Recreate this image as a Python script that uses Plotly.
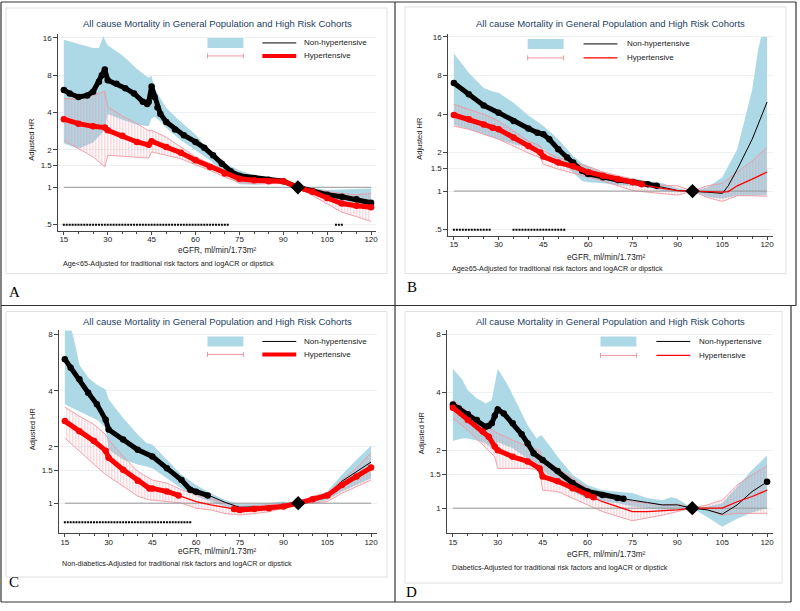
import math
import plotly.graph_objects as go

# ---------------- data (HR on log scale) ----------------
# Panel A: Age<65
A_nh_x = [15, 17, 20, 23, 25, 27, 28, 29, 30, 33, 36, 39, 42, 43.5, 44, 45, 46, 47, 48, 50, 53, 56, 60, 63, 66,
          69, 72, 75, 80, 85, 90, 95, 100, 105, 110, 115, 120]
A_nh_hr = [6.1, 5.7, 5.35, 5.5, 5.9, 7.1, 8.0, 8.9, 7.3, 6.85, 6.3, 5.7, 4.9, 4.7, 4.9, 6.5, 5.35, 4.4, 3.9, 3.36,
           2.93, 2.63, 2.32, 2.08, 1.81, 1.55, 1.35, 1.24, 1.19, 1.15, 1.12, 1.0, 0.93, 0.87, 0.84, 0.80, 0.75]
A_nh_ci_x = [15, 20, 25, 27, 28.5, 29, 30, 35, 40, 44, 45, 46, 48, 50, 55, 60, 65, 70, 75, 80, 85, 90, 95, 100,
             105, 110, 115, 120]
A_nh_lo = [2.25, 2.05, 2.3, 2.6, 2.8, 2.9, 3.9, 3.5, 3.2, 3.1, 3.6, 3.7, 3.4, 3.0, 2.4, 2.0, 1.65, 1.28, 1.06,
           1.05, 1.07, 1.08, 1.0, 0.88, 0.8, 0.75, 0.72, 0.68]
A_nh_hi = [15.5, 14.4, 13.3, 13.3, 16.6, 15.5, 14.0, 11.6, 9.0, 7.6, 7.9, 6.25, 5.2, 4.36, 3.36, 2.66, 1.93, 1.55,
           1.37, 1.25, 1.19, 1.16, 1.0, 0.99, 0.95, 0.96, 0.97, 0.98]
A_h_x = [15, 20, 25, 29, 30, 35, 40, 44, 45, 50, 55, 60, 65, 70, 75, 80, 85, 90, 95, 100, 105, 110, 115, 120]
A_h_hr = [3.54, 3.26, 3.1, 3.03, 2.88, 2.6, 2.32, 2.2, 2.35, 2.11, 1.9, 1.65, 1.46, 1.29, 1.17, 1.14, 1.12, 1.12,
          1.0, 0.92, 0.82, 0.74, 0.71, 0.69]
A_h_lo = [2.39, 2.05, 1.76, 1.46, 1.81, 1.78, 1.76, 1.72, 1.93, 1.81, 1.70, 1.52, 1.37, 1.21, 1.09, 1.07, 1.07,
          1.07, 1.0, 0.86, 0.74, 0.63, 0.58, 0.53]
A_h_hi = [5.2, 5.1, 5.5, 5.95, 4.44, 3.76, 3.26, 2.85, 2.88, 2.54, 2.11, 1.76, 1.55, 1.37, 1.25, 1.19, 1.16, 1.16,
          1.0, 0.96, 0.92, 0.89, 0.87, 0.89]

# Panel B: Age>=65
B_nh_x = [15, 20, 25, 30, 35, 40, 43, 45, 47, 50, 53, 55, 58, 60, 65, 70, 75, 80, 83, 85, 90, 95, 100, 105, 107,
          110, 115, 120]
B_nh_hr = [7.0, 5.7, 4.67, 4.1, 3.53, 3.08, 2.86, 2.78, 2.54, 2.12, 1.83, 1.67, 1.44, 1.36, 1.28, 1.22, 1.18,
           1.13, 1.10, 1.07, 1.01, 1.0, 0.98, 0.96, 1.1, 1.48, 2.54, 4.96]
B_nh_ci_x = [15, 20, 25, 28, 30, 35, 40, 45, 48, 50, 55, 58, 60, 65, 70, 75, 80, 85, 90, 95, 100, 105, 110, 115,
             117, 118, 120]
B_nh_lo = [3.3, 3.04, 2.78, 2.62, 2.54, 2.32, 2.19, 2.12, 1.8, 1.72, 1.40, 1.2, 1.17, 1.15, 1.11, 1.10, 1.07,
           1.0, 0.98, 1.0, 0.90, 0.87, 0.92, 0.93, 0.93, 0.93, 0.93]
B_nh_hi = [11.9, 8.4, 6.4, 6.0, 5.86, 4.9, 3.9, 3.22, 2.8, 2.54, 1.88, 1.65, 1.57, 1.40, 1.30, 1.25, 1.20, 1.15,
           1.05, 1.0, 1.07, 1.28, 2.12, 6.2, 12.7, 16, 16]
B_h_x = [15, 20, 25, 28, 30, 35, 40, 44, 45, 50, 55, 60, 65, 70, 75, 78, 80, 85, 90, 95, 100, 105, 107, 110, 115,
         120]
B_h_hr = [3.93, 3.64, 3.32, 3.13, 3.04, 2.62, 2.25, 2.0, 1.86, 1.67, 1.56, 1.41, 1.32, 1.24, 1.17, 1.13, 1.10,
          1.05, 1.01, 1.0, 0.99, 0.98, 0.99, 1.10, 1.24, 1.41]
B_h_ci_x = [15, 20, 25, 30, 35, 40, 44, 45, 50, 55, 60, 65, 70, 75, 80, 85, 90, 95, 100, 105, 110, 115, 120]
B_h_lo = [3.22, 3.04, 2.78, 2.54, 2.25, 1.98, 1.82, 1.62, 1.48, 1.38, 1.28, 1.20, 1.10, 1.01, 0.98, 0.96, 0.93,
          1.0, 0.89, 0.83, 0.92, 0.92, 0.91]
B_h_hi = [4.76, 4.35, 3.98, 3.53, 2.95, 2.46, 2.25, 2.06, 1.83, 1.67, 1.56, 1.41, 1.32, 1.24, 1.17, 1.11, 1.10,
          1.0, 1.10, 1.15, 1.40, 1.72, 2.19]

# Panel C: Non-diabetics
C_nh_x = [15, 17, 20, 23, 26, 29, 30, 35, 40, 45, 50, 55, 58, 60, 64, 65, 70, 74, 75, 80, 85, 90, 95, 100, 105,
          110, 115, 120]
C_nh_hr = [5.9, 5.3, 4.6, 3.9, 3.38, 2.8, 2.48, 2.19, 1.93, 1.78, 1.54, 1.33, 1.18, 1.15, 1.10, 1.09, 1.01, 0.96,
           0.95, 0.955, 0.96, 0.98, 1.0, 1.04, 1.11, 1.31, 1.48, 1.66]
C_nh_ci_x = [15, 17, 18, 20, 23, 26, 29, 30, 35, 40, 43, 45, 50, 55, 60, 65, 70, 75, 80, 85, 90, 95, 100, 105,
             110, 115, 120]
C_nh_lo = [3.38, 3.25, 3.2, 3.1, 2.95, 2.8, 2.53, 1.93, 1.71, 1.61, 1.57, 1.54, 1.36, 1.2, 1.09, 1.02, 0.96, 0.92,
           0.93, 0.94, 0.96, 1.0, 1.0, 1.04, 1.155, 1.25, 1.36]
C_nh_hi = [8.8, 8.8, 7.7, 5.5, 4.7, 4.3, 4.06, 3.6, 2.86, 2.33, 2.1, 2.06, 1.71, 1.42, 1.25, 1.13, 1.04, 0.99,
           0.99, 1.0, 1.02, 1.0, 1.09, 1.155, 1.42, 1.71, 2.03]
C_h_x = [15, 20, 25, 29, 30, 35, 40, 44, 45, 50, 54, 55, 60, 65, 70, 73, 75, 80, 85, 90, 95, 100, 105, 110, 115,
         120]
C_h_hr = [2.75, 2.43, 2.15, 1.91, 1.75, 1.51, 1.32, 1.2, 1.2, 1.155, 1.10, 1.09, 1.02, 0.98, 0.95, 0.93, 0.92,
          0.93, 0.94, 0.96, 1.0, 1.05, 1.1, 1.25, 1.39, 1.55]
C_h_ci_x = [15, 20, 25, 29, 30, 35, 40, 44, 45, 50, 55, 60, 65, 70, 75, 80, 85, 90, 95, 100, 105, 110, 115, 120]
C_h_lo = [2.23, 1.9, 1.61, 1.42, 1.39, 1.23, 1.09, 1.04, 1.04, 1.02, 1.0, 0.94, 0.92, 0.88, 0.865, 0.88, 0.90,
          0.94, 1.0, 1.0, 1.02, 1.13, 1.23, 1.33]
C_h_hi = [3.27, 2.92, 2.64, 2.33, 2.19, 1.78, 1.48, 1.36, 1.33, 1.28, 1.18, 1.11, 1.06, 1.0, 0.96, 0.97, 0.98,
          0.99, 1.0, 1.09, 1.13, 1.33, 1.54, 1.86]

# Panel D: Diabetics
D_nh_x = [15, 17, 20, 23, 26, 27, 28, 29, 30, 32, 35, 38, 40, 42, 45, 50, 55, 60, 65, 70, 72, 75, 80, 85, 90, 95,
          100, 105, 110, 115, 120]
D_nh_hr = [3.46, 3.3, 3.08, 2.87, 2.65, 2.68, 2.76, 3.02, 3.26, 3.11, 2.76, 2.42, 2.17, 1.93, 1.78, 1.56, 1.35,
           1.22, 1.17, 1.13, 1.12, 1.1, 1.07, 1.04, 1.04, 1.0, 0.98, 0.93, 1.04, 1.22, 1.37]
D_nh_ci_x = [15, 18, 20, 23, 26, 28, 30, 33, 35, 40, 43, 44.5, 48, 50, 55, 60, 65, 70, 75, 80, 85, 88, 90, 95,
             100, 105, 110, 115, 120]
D_nh_lo = [2.24, 2.3, 2.3, 2.25, 2.17, 2.05, 2.2, 2.1, 2.05, 1.8, 1.65, 1.6, 1.45, 1.4, 1.22, 1.12, 1.09, 1.06,
           1.02, 1.0, 0.98, 0.98, 0.98, 1.0, 0.9, 0.8, 0.88, 0.95, 1.0]
D_nh_hi = [5.3, 4.7, 4.1, 3.73, 3.5, 3.65, 5.3, 4.46, 3.87, 2.7, 2.3, 2.4, 2.05, 1.85, 1.49, 1.32, 1.24, 1.22,
           1.2, 1.13, 1.10, 1.14, 1.12, 1.0, 1.02, 1.06, 1.3, 1.58, 1.88]
D_h_x = [15, 20, 25, 27, 29, 30, 35, 40, 44, 45, 50, 55, 60, 62, 65, 70, 75, 80, 85, 90, 95, 100, 105, 110, 115,
         120]
D_h_hr = [3.33, 2.87, 2.5, 2.35, 2.09, 2.0, 1.85, 1.75, 1.61, 1.46, 1.38, 1.27, 1.17, 1.14, 1.08, 1.02, 0.96,
          0.96, 0.97, 0.98, 1.0, 1.0, 1.0, 1.08, 1.15, 1.24]
D_h_ci_x = [15, 20, 25, 29, 30, 35, 40, 44, 45, 50, 55, 60, 65, 70, 75, 80, 85, 90, 95, 100, 105, 110, 115, 120]
D_h_lo = [2.93, 2.55, 2.13, 1.85, 1.61, 1.61, 1.61, 1.58, 1.24, 1.22, 1.13, 1.04, 0.96, 0.905, 0.86, 0.89, 0.92,
          0.96, 1.0, 0.98, 0.92, 0.94, 0.94, 0.94]
D_h_hi = [3.65, 3.17, 2.76, 2.5, 2.45, 2.26, 2.09, 2.0, 1.78, 1.61, 1.43, 1.27, 1.17, 1.13, 1.08, 1.06, 1.04,
          1.05, 1.0, 1.04, 1.1, 1.32, 1.49, 1.66]

# eGFR ranges where points are significant (drawn with markers)
A_nh_marked = [(15, 120)]
A_h_marked = [(15, 120)]
B_nh_marked = [(15, 83)]
B_h_marked = [(15, 78)]
C_nh_marked = [(15, 64)]
C_h_marked = [(15, 54), (73, 120)]
D_nh_marked = [(15, 72), (120, 120)]
D_h_marked = [(15, 62)]

# significance dot rows (eGFR ranges, HR where the row is drawn)
A_sig = [(15, 71), (108, 110)]
B_sig = [(15, 27), (35, 52)]
C_sig = [(15, 58)]
D_sig = []
sig_row_hr = {"A": 0.5, "B": 0.5, "C": 0.79, "D": 0.5}

ref_egfr, ref_hr = 95, 1.0

x_ticks = [15, 30, 45, 60, 75, 90, 105, 120]
y_ticks_ab = [0.5, 1, 1.5, 2, 4, 8, 16]
y_text_ab = [".5", "1", "1.5", "2", "4", "8", "16"]
y_ticks_cd = [1, 1.5, 2, 4, 8]
y_text_cd = ["1", "1.5", "2", "4", "8"]

title = "All cause Mortality in General Population and High Risk Cohorts"
notes = {
    "A": "Age<65-Adjusted for traditional risk factors and logACR or dipstick",
    "B": "Age\u226565-Adjusted for traditional risk factors and logACR or dipstick",
    "C": "Non-diabetics-Adjusted for traditional risk factors and logACR or dipstick",
    "D": "Diabetics-Adjusted for traditional risk factors and logACR or dipstick",
}

# ---------------- styling / layout ----------------
W, H = 800, 611
BLUE = "rgb(173,216,230)"
PINK = "rgb(240,150,160)"
RED = "rgb(255,0,0)"
GRID = "rgb(236,240,242)"
FONT = "Liberation Sans, Arial, sans-serif"
TITLE_C = "#24405f"

# pixel geometry of each panel: where eGFR 15/120 land, plot box, two y ticks
panels = [
    dict(k="A", xa="x", ya="y", p15=64, p120=372, left=58.5, right=377, top=33, bottom=230,
         yref=((16, 37), (0.5, 224)), yt=(y_ticks_ab, y_text_ab),
         nh=(A_nh_x, A_nh_hr, A_nh_marked), nhci=(A_nh_ci_x, A_nh_lo, A_nh_hi),
         h=(A_h_x, A_h_hr, A_h_marked), hci=(A_h_x, A_h_lo, A_h_hi), sig=A_sig,
         title=(218, 23), leg=(208, 263, 303, 42, 55), thick_leg=True,
         xt=(218, 250), note=(61, 263), ylab=(32, 138), letter=(7, 291), box=(6, 7, 388, 273)),
    dict(k="B", xa="x2", ya="y2", p15=455, p120=769, left=449.5, right=775, top=33, bottom=235,
         yref=((16, 36), (0.5, 229)), yt=(y_ticks_ab, y_text_ab),
         nh=(B_nh_x, B_nh_hr, B_nh_marked), nhci=(B_nh_ci_x, B_nh_lo, B_nh_hi),
         h=(B_h_x, B_h_hr, B_h_marked), hci=(B_h_ci_x, B_h_lo, B_h_hi), sig=B_sig,
         title=(612, 23), leg=(529, 585, 627, 43, 57), thick_leg=False,
         xt=(608, 257), note=(451, 268), ylab=(421, 137), letter=(406, 286), box=(406, 6, 788, 273)),
    dict(k="C", xa="x3", ya="y3", p15=65, p120=372, left=59.5, right=378, top=330, bottom=533,
         yref=((8, 334), (1, 503)), yt=(y_ticks_cd, y_text_cd),
         nh=(C_nh_x, C_nh_hr, C_nh_marked), nhci=(C_nh_ci_x, C_nh_lo, C_nh_hi),
         h=(C_h_x, C_h_hr, C_h_marked), hci=(C_h_ci_x, C_h_lo, C_h_hi), sig=C_sig,
         title=(218, 321), leg=(208, 263, 303, 341, 354), thick_leg=True,
         xt=(218, 551), note=(60, 563), ylab=(32, 428), letter=(7, 582), box=(6, 311, 388, 577)),
    dict(k="D", xa="x4", ya="y4", p15=454, p120=769, left=448.5, right=775, top=330, bottom=533,
         yref=((8, 334), (1, 508)), yt=(y_ticks_cd, y_text_cd),
         nh=(D_nh_x, D_nh_hr, D_nh_marked), nhci=(D_nh_ci_x, D_nh_lo, D_nh_hi),
         h=(D_h_x, D_h_hr, D_h_marked), hci=(D_h_ci_x, D_h_lo, D_h_hi), sig=D_sig,
         title=(612, 321), leg=(602, 658, 699, 341, 355), thick_leg=False,
         xt=(608, 554), note=(451, 567), ylab=(422, 432), letter=(405, 592), box=(406, 311, 784, 583)),
]


def px(x):
    return x / W


def py(y):
    return 1 - y / H


def pick(xs, ys, lo, hi):
    pts = [(a, b) for a, b in zip(xs, ys) if lo <= a <= hi]
    return [p[0] for p in pts], [p[1] for p in pts]


fig = go.Figure()
shapes = []
annotations = []
layout_axes = {}

for i, p in enumerate(panels):
    xa, ya = p["xa"], p["ya"]
    # axis ranges from pixel geometry
    ppu = (p["p120"] - p["p15"]) / 105.0
    xr = [15 - (p["p15"] - p["left"]) / ppu, 120 + (p["right"] - p["p120"]) / ppu]
    (vh, ph), (vl, pl) = p["yref"]
    ppl = (pl - ph) / (math.log10(vh) - math.log10(vl))
    yr = [math.log10(vl) - (p["bottom"] - pl) / ppl, math.log10(vh) + (ph - p["top"]) / ppl]

    # blue CI band (non-hypertensive)
    cx, clo, chi = p["nhci"]
    fig.add_trace(go.Scatter(x=cx, y=clo, mode="lines", line=dict(width=0, color=BLUE),
                             xaxis=xa, yaxis=ya, showlegend=False, hoverinfo="skip"))
    fig.add_trace(go.Scatter(x=cx, y=chi, mode="lines", line=dict(width=0, color=BLUE), fill="tonexty",
                             fillcolor=BLUE, xaxis=xa, yaxis=ya, showlegend=False, hoverinfo="skip"))
    # pink hatched CI (hypertensive)
    hx, hlo, hhi = p["hci"]
    fig.add_trace(go.Scatter(x=hx, y=hlo, mode="lines", line=dict(width=0.9, color=PINK),
                             xaxis=xa, yaxis=ya, showlegend=False, hoverinfo="skip"))
    fig.add_trace(go.Scatter(x=hx, y=hhi, mode="lines", line=dict(width=0.9, color=PINK), fill="tonexty",
                             fillcolor="rgba(0,0,0,0)",
                             fillpattern=dict(shape="|", fgcolor=PINK, bgcolor="rgba(0,0,0,0)",
                                              size=3, solidity=0.38),
                             xaxis=xa, yaxis=ya, showlegend=False, hoverinfo="skip"))
    # reference line at HR 1
    fig.add_trace(go.Scatter(x=[15, 120], y=[1, 1], mode="lines", line=dict(width=1, color="rgb(150,150,150)"),
                             xaxis=xa, yaxis=ya, showlegend=False, hoverinfo="skip"))
    # significance dot row
    sx = []
    for a, b in p["sig"]:
        sx += list(range(a, b + 1))
    if sx:
        fig.add_trace(go.Scatter(x=sx, y=[sig_row_hr[p["k"]]] * len(sx), mode="markers",
                                 marker=dict(symbol="square", size=2, color="black"),
                                 xaxis=xa, yaxis=ya, showlegend=False, hoverinfo="skip"))
    # estimate lines: black then red
    for (sxs, sys_, marked), col, thin in ((p["nh"], "black", 1.0), (p["h"], RED, 1.3)):
        fig.add_trace(go.Scatter(x=sxs, y=sys_, mode="lines", line=dict(width=thin, color=col),
                                 xaxis=xa, yaxis=ya, showlegend=False, hoverinfo="skip"))
        for a, b in marked:
            mx, my = pick(sxs, sys_, a, b)
            fig.add_trace(go.Scatter(x=mx, y=my, mode="lines+markers", line=dict(width=5, color=col),
                                     marker=dict(size=6.5, color=col),
                                     xaxis=xa, yaxis=ya, showlegend=False, hoverinfo="skip"))
    fig.add_trace(go.Scatter(x=[ref_egfr], y=[ref_hr], mode="markers",
                             marker=dict(symbol="diamond", size=11, color="black"),
                             xaxis=xa, yaxis=ya, showlegend=False, hoverinfo="skip"))

    sfx = "" if i == 0 else str(i + 1)
    layout_axes["xaxis" + sfx] = dict(
        domain=[px(p["left"]), px(p["right"])], range=xr, anchor=ya,
        tickmode="array", tickvals=x_ticks, ticks="outside", ticklen=3, tickwidth=1,
        tickcolor="#444", showline=True, linecolor="#444", linewidth=1, showgrid=False, zeroline=False,
        ticklabelstandoff=-2,
        tickfont=dict(family=FONT, size=8, color="#222"),
        minor=dict(tickmode="linear", tick0=15, dtick=5, ticks="outside", ticklen=2, tickcolor="#444",
                   showgrid=False))
    tv, tt = p["yt"]
    layout_axes["yaxis" + sfx] = dict(
        domain=[py(p["bottom"]), py(p["top"])], range=yr, type="log", anchor=xa,
        tickmode="array", tickvals=tv, ticktext=tt, ticks="outside", ticklen=4, tickwidth=1,
        tickcolor="#444", showline=True, linecolor="#444", linewidth=1, showgrid=True, gridcolor=GRID,
        gridwidth=1, zeroline=False, tickfont=dict(family=FONT, size=8, color="#222"))

    # text
    tx, ty = p["title"]
    annotations.append(dict(text=title, x=px(tx), y=py(ty), xref="paper", yref="paper", showarrow=False,
                            xanchor="center", yanchor="middle", font=dict(family=FONT, size=9.5, color=TITLE_C)))
    tx, ty = p["xt"]
    annotations.append(dict(text="eGFR, ml/min/1.73m\u00b2", x=px(tx), y=py(ty), xref="paper", yref="paper",
                            showarrow=False, xanchor="center", yanchor="middle",
                            font=dict(family=FONT, size=8.2, color="#222")))
    tx, ty = p["note"]
    annotations.append(dict(text=notes[p["k"]], x=px(tx), y=py(ty), xref="paper", yref="paper",
                            showarrow=False, xanchor="left", yanchor="middle",
                            font=dict(family=FONT, size=7.2, color="#222")))
    tx, ty = p["ylab"]
    annotations.append(dict(text="Adjusted HR", x=px(tx), y=py(ty), xref="paper", yref="paper", textangle=-90,
                            showarrow=False, xanchor="center", yanchor="middle",
                            font=dict(family=FONT, size=7.5, color="#222")))
    tx, ty = p["letter"]
    annotations.append(dict(text=p["k"], x=px(tx), y=py(ty), xref="paper", yref="paper", showarrow=False,
                            xanchor="left", yanchor="middle",
                            font=dict(family="Liberation Serif, Times New Roman, serif", size=15, color="black")))

    # legend (drawn by hand, like Stata's key)
    k0, l0, t0, y1, y2 = p["leg"]
    shapes.append(dict(type="rect", xref="paper", yref="paper", x0=px(k0), x1=px(k0 + 36),
                       y0=py(y1 + 5), y1=py(y1 - 5), fillcolor=BLUE, line=dict(width=0)))
    shapes.append(dict(type="line", xref="paper", yref="paper", x0=px(k0), x1=px(k0 + 36), y0=py(y2), y1=py(y2),
                       line=dict(color=PINK, width=1)))
    for cxp in (k0, k0 + 36):
        shapes.append(dict(type="line", xref="paper", yref="paper", x0=px(cxp), x1=px(cxp),
                           y0=py(y2 - 2.5), y1=py(y2 + 2.5), line=dict(color=PINK, width=1)))
    shapes.append(dict(type="line", xref="paper", yref="paper", x0=px(l0), x1=px(l0 + 34), y0=py(y1), y1=py(y1),
                       line=dict(color="black", width=1)))
    shapes.append(dict(type="line", xref="paper", yref="paper", x0=px(l0), x1=px(l0 + 34), y0=py(y2), y1=py(y2),
                       line=dict(color=RED, width=4 if p["thick_leg"] else 1.3)))
    for txt, yy in (("Non-hypertensive", y1), ("Hypertensive", y2)):
        annotations.append(dict(text=txt, x=px(t0), y=py(yy), xref="paper", yref="paper", showarrow=False,
                                xanchor="left", yanchor="middle", font=dict(family=FONT, size=8, color="#222")))
    # inner graph-region frame
    bx0, by0, bx1, by1 = p["box"]
    shapes.append(dict(type="rect", xref="paper", yref="paper", x0=px(bx0), x1=px(bx1), y0=py(by1), y1=py(by0),
                       line=dict(color="rgb(225,225,225)", width=1), fillcolor="rgba(0,0,0,0)", layer="below"))

# outer panel frames
for x0, y0, x1, y1 in [(1, 1, 798, 1), (1, 1, 1, 602), (1, 602, 793, 602), (798, 1, 798, 305),
                       (793, 305, 793, 602), (396, 1, 396, 602), (1, 305, 798, 305)]:
    shapes.append(dict(type="line", xref="paper", yref="paper", x0=px(x0), x1=px(x1), y0=py(y0), y1=py(y1),
                       line=dict(color="#333", width=1.2)))

fig.update_layout(width=W, height=H, autosize=False, margin=dict(l=0, r=0, t=0, b=0),
                  paper_bgcolor="white", plot_bgcolor="white", showlegend=False,
                  shapes=shapes, annotations=annotations, **layout_axes)

# page body margin would shift the 800x611 figure inside the window
fig.write_html("out.html", config={"displayModeBar": False},
               post_script="document.body.style.margin='0';")
